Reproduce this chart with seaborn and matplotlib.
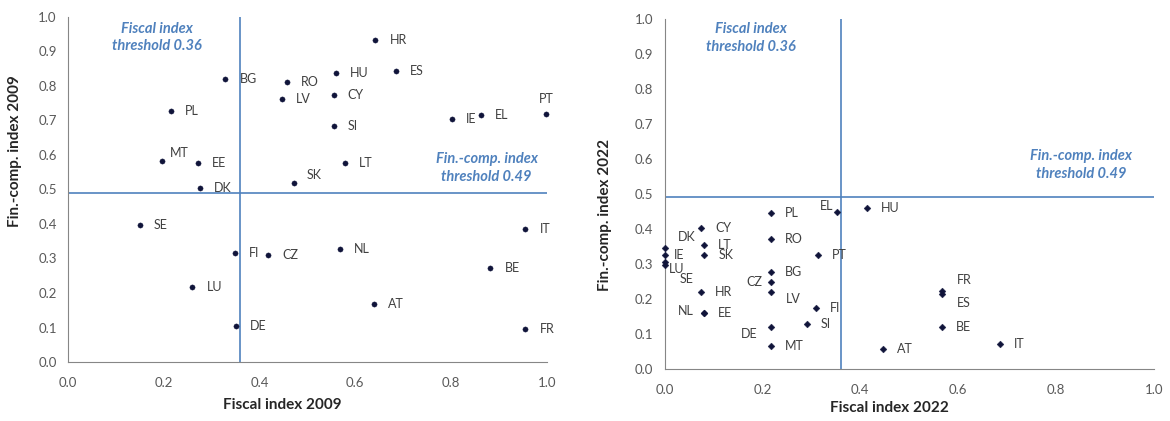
import seaborn as sns
import matplotlib.pyplot as plt
import pandas as pd
import numpy as np

sns.set_style("white")
plt.rcParams['font.family'] = ['Lato', 'DejaVu Sans']

# 2009 data
countries_09 = ["BG", "PL", "MT", "EE", "DK", "RO", "LV", "SK", "HR", "HU", "ES", "CY", "SI", "LT",
                "IE", "EL", "PT", "SE", "FI", "CZ", "LU", "DE", "NL", "IT", "BE", "AT", "FR"]
fiscal_09 = [0.329, 0.216, 0.196, 0.271, 0.276, 0.457, 0.447, 0.472, 0.642, 0.560, 0.685, 0.555, 0.555, 0.578,
             0.801, 0.863, 0.999, 0.150, 0.349, 0.418, 0.260, 0.350, 0.568, 0.955, 0.882, 0.639, 0.955]
fincomp_09 = [0.821, 0.727, 0.581, 0.576, 0.505, 0.812, 0.762, 0.520, 0.933, 0.837, 0.843, 0.774, 0.684, 0.576,
              0.705, 0.716, 0.718, 0.397, 0.316, 0.310, 0.218, 0.105, 0.328, 0.386, 0.273, 0.167, 0.097]

# 2022 data
countries_22 = ["PL", "RO", "BG", "CZ", "LV", "DE", "MT", "EL", "HU", "PT", "FI", "SI", "AT", "CY",
                "LT", "SK", "HR", "EE", "NL", "DK", "IE", "LU", "SE", "FR", "ES", "BE", "IT"]
fiscal_22 = [0.217, 0.217, 0.217, 0.217, 0.217, 0.217, 0.217, 0.352, 0.414, 0.314, 0.309, 0.291, 0.447, 0.075,
             0.081, 0.081, 0.075, 0.081, 0.081, 0.0, 0.0, 0.0, 0.0, 0.567, 0.567, 0.567, 0.686]
fincomp_22 = [0.445, 0.370, 0.278, 0.249, 0.221, 0.121, 0.067, 0.449, 0.459, 0.326, 0.173, 0.129, 0.057, 0.402,
              0.354, 0.326, 0.221, 0.161, 0.161, 0.345, 0.327, 0.305, 0.298, 0.222, 0.213, 0.121, 0.071]

fiscal_threshold = 0.36
fincomp_threshold = 0.49

# label placement tweaks (dx, dy in pixels, ha)
offsets_09 = {"PT": (0, 15, "center"), "MT": (8, 8, "left"), "SK": (13, 8, "left")}
offsets_22 = {"EL": (-3, 6, "right"), "DK": (31, 11, "right"), "IE": (9, 0, "left"),
              "LU": (4, -7, "left"), "SE": (15, -14, "left"), "NL": (-10, 2, "right"),
              "CZ": (-8, 0, "right"), "LV": (15, -7, "left"), "DE": (-13, -7, "right"),
              "FR": (15, 11, "left"), "ES": (15, -9, "left")}

blue = "#4f81bd"
navy = "#10143a"

fig = plt.figure(figsize=(11.7, 4.21), dpi=100)
ax1 = fig.add_axes([0.058, 0.140, 0.4095, 0.820])
ax2 = fig.add_axes([0.568, 0.1235, 0.418, 0.8315])

panels = [
    (ax1, countries_09, fiscal_09, fincomp_09, offsets_09, "o", 14, "Fiscal index 2009",
     "Fin.-comp. index 2009", (0.186, 0.94), (0.874, 0.562), (0.447, -0.105), (-0.095, 0.61)),
    (ax2, countries_22, fiscal_22, fincomp_22, offsets_22, "D", 12, "Fiscal index 2022",
     "Fin.-comp. index 2022", (0.176, 0.946), (0.852, 0.583), (0.46, -0.09), (-0.107, 0.44)),
]

for ax, names, xs, ys, offs, mk, size, xlab, ylab, t1, t2, xl, yl in panels:
    df = pd.DataFrame({"country": names, "fiscal": xs, "fincomp": ys})
    ax.axvline(fiscal_threshold, color=blue, lw=1.2, zorder=1)
    ax.axhline(fincomp_threshold, color=blue, lw=1.2, zorder=1)
    sns.scatterplot(data=df, x="fiscal", y="fincomp", ax=ax, marker=mk, s=size,
                    color=navy, edgecolor=navy, linewidth=0.3, zorder=3, clip_on=False)
    for _, r in df.iterrows():
        dx, dy, ha = offs.get(r["country"], (14, 0, "left"))
        ax.annotate(r["country"], (r["fiscal"], r["fincomp"]), xytext=(dx, dy),
                    textcoords="offset pixels", ha=ha, va="center", fontsize=9, color="#404040")

    ax.text(t1[0], t1[1], "Fiscal index\nthreshold 0.36", ha="center", va="center",
            fontsize=10.5, color=blue, style="italic", weight="bold", linespacing=1.35)
    ax.text(t2[0], t2[1], "Fin.-comp. index\nthreshold 0.49", ha="center", va="center",
            fontsize=10.5, color=blue, style="italic", weight="bold", linespacing=1.35)

    ax.set_xlim(0, 1)
    ax.set_ylim(0, 1)
    ax.set_xticks(np.arange(0, 1.01, 0.2))
    ax.set_yticks(np.arange(0, 1.01, 0.1))
    ax.set_xticklabels([f"{v:.1f}" for v in np.arange(0, 1.01, 0.2)])
    ax.set_yticklabels([f"{v:.1f}" for v in np.arange(0, 1.01, 0.1)])
    ax.tick_params(direction="inout", length=6, width=0.8, color="#868686",
                   labelsize=9.5, labelcolor="#595959", pad=5)
    ax.tick_params(axis="x", pad=8)
    for s in ["top", "right"]:
        ax.spines[s].set_visible(False)
    for s in ["left", "bottom"]:
        ax.spines[s].set_color("#868686")
        ax.spines[s].set_linewidth(0.8)

    ax.set_xlabel(xlab, fontsize=11, weight="bold", color="#262626")
    ax.set_ylabel(ylab, fontsize=11, weight="bold", color="#262626")
    ax.xaxis.set_label_coords(*xl)
    ax.yaxis.set_label_coords(*yl)

fig.savefig("out.png", dpi=100)
